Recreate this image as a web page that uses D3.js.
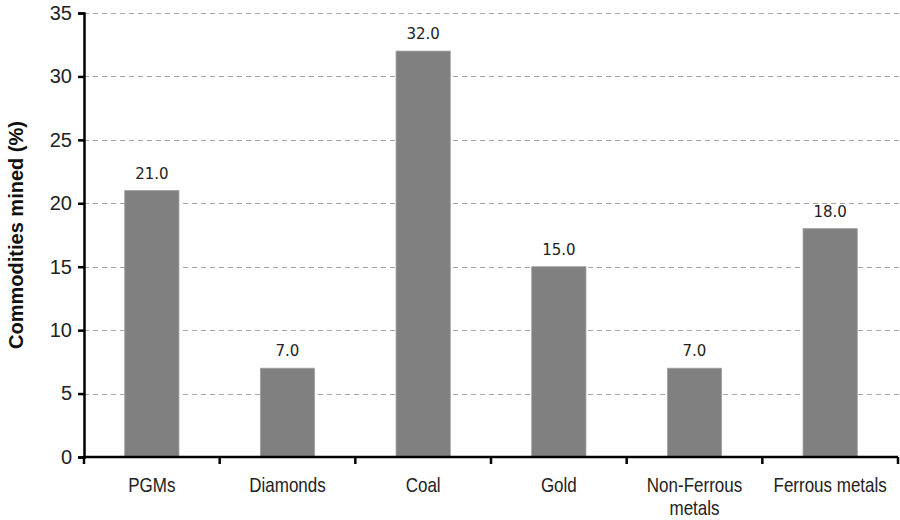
<!DOCTYPE html>
<html>
<head>
<meta charset="utf-8">
<script src="https://cdn.jsdelivr.net/npm/d3@7/dist/d3.min.js"></script>
<style>
  html, body { margin: 0; padding: 0; background: #fff; }
  svg { display: block; }
</style>
</head>
<body>
<svg id="chart" width="900" height="520"></svg>
<script>
const categories = ["PGMs", "Diamonds", "Coal", "Gold", "Non-Ferrous\nmetals", "Ferrous metals"];
const values = [21.0, 7.0, 32.0, 15.0, 7.0, 18.0];
const yTicks = [0, 5, 10, 15, 20, 25, 30, 35];
const yTitle = "Commodities mined (%)";

(function () {
const svg = d3.select("#chart");
const mLeft = 84, mRight = 898, mTop = 13, mBottom = 457;

const x = d3.scaleBand().domain(categories).range([mLeft, mRight]).paddingInner(0.6).paddingOuter(0.3);
const xb = d3.scaleBand().domain(categories).range([mLeft, mRight]);
const y = d3.scaleLinear().domain([0, 35]).range([mBottom, mTop]);

// gridlines
svg.append("g").selectAll("line").data(yTicks.filter(d => d > 0)).join("line")
  .attr("x1", mLeft).attr("x2", 900)
  .attr("y1", d => Math.round(y(d)) + 0.5).attr("y2", d => Math.round(y(d)) + 0.5)
  .attr("stroke", "#a6a6a6").attr("stroke-width", 1).attr("stroke-dasharray", "5,4");

// bars
svg.append("g").selectAll("rect").data(values).join("rect")
  .attr("x", (d, i) => x(categories[i]))
  .attr("y", d => y(d))
  .attr("width", x.bandwidth())
  .attr("height", d => mBottom - y(d))
  .attr("fill", "#808080")
  .attr("stroke", "#a0a0a0").attr("stroke-width", 0.8);

// value labels
svg.append("g").selectAll("text").data(values).join("text")
  .attr("x", (d, i) => x(categories[i]) + x.bandwidth() / 2)
  .attr("y", d => y(d) - 12)
  .attr("text-anchor", "middle")
  .attr("font-family", "DejaVu Sans, Verdana, sans-serif")
  .attr("font-size", 15)
  .attr("fill", "#222")
  .text(d => d.toFixed(1));

// y axis
const yAxis = svg.append("g").attr("transform", `translate(${mLeft},0)`)
  .call(d3.axisLeft(y).tickValues(yTicks).tickSize(6).tickPadding(6));
yAxis.select(".domain").attr("stroke", "#000").attr("stroke-width", 2.5);
yAxis.selectAll(".tick line").attr("stroke", "#000").attr("stroke-width", 2.5);
yAxis.selectAll(".tick text").attr("font-family", "Liberation Sans, Arial, sans-serif")
  .attr("font-size", 20).attr("fill", "#222");

// x axis
const xAxisG = svg.append("g").attr("transform", `translate(0,${mBottom})`);
xAxisG.append("line").attr("x1", mLeft).attr("x2", mRight).attr("y1", 0).attr("y2", 0)
  .attr("stroke", "#000").attr("stroke-width", 2.5);
const boundaries = categories.map(c => xb(c)).concat([mRight]);
xAxisG.selectAll("line.tk").data(boundaries).join("line").attr("class", "tk")
  .attr("x1", d => d).attr("x2", d => d).attr("y1", 0).attr("y2", 7)
  .attr("stroke", "#000").attr("stroke-width", 2.5);
const lbl = xAxisG.selectAll("text.cat").data(categories).join("text").attr("class", "cat")
  .attr("transform", d => `translate(${xb(d) + xb.bandwidth() / 2},35) scale(0.85,1)`)
  .attr("text-anchor", "middle")
  .attr("font-family", "Liberation Sans, Arial, sans-serif")
  .attr("font-size", 20)
  .attr("fill", "#222");
lbl.each(function(d) {
  const parts = d.split("\n");
  d3.select(this).selectAll("tspan").data(parts).join("tspan")
    .attr("x", 0)
    .attr("dy", (p, i) => i === 0 ? 0 : 23)
    .text(p => p);
});

// y title
svg.append("text")
  .attr("transform", `translate(23,${(mTop + mBottom) / 2}) rotate(-90)`)
  .attr("text-anchor", "middle")
  .attr("font-family", "Liberation Sans, Arial, sans-serif")
  .attr("font-weight", "bold")
  .attr("font-size", 20)
  .attr("fill", "#111")
  .text(yTitle);
})();
</script>
</body>
</html>
